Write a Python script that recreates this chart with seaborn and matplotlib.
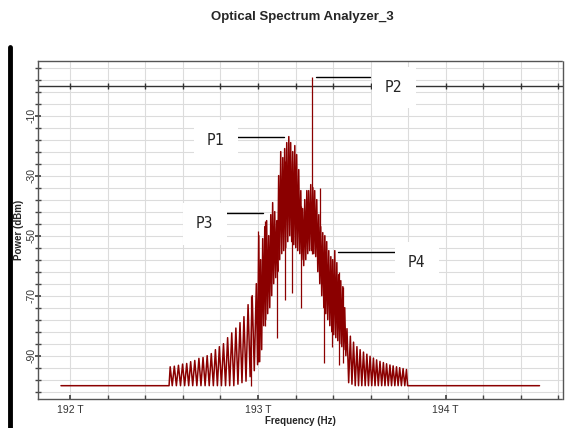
import matplotlib
matplotlib.use("Agg")
import matplotlib.pyplot as plt
from matplotlib.lines import Line2D
from matplotlib.ticker import MultipleLocator, FuncFormatter
import numpy as np
import pandas as pd
import seaborn as sns

# --- spectrum (frequency in THz, power in dBm) ---
# left side-band comb
left_freq = [192.532, 192.554, 192.576, 192.598, 192.620, 192.641, 192.663, 192.685,
             192.707, 192.729, 192.751, 192.773, 192.794, 192.816, 192.838, 192.860,
             192.882, 192.904, 192.925, 192.947, 192.969, 192.991]
left_top = [-93.7, -93.5, -93.2, -92.8, -92.6, -92.0, -91.6, -90.9, -90.6, -90.0, -89.3,
            -88.0, -87.0, -86.0, -84.0, -82.4, -80.8, -79.0, -77.0, -73.0, -70.0, -66.0]
left_low = [-100, -100, -100, -100, -100, -100, -100, -100, -100, -100, -100,
            -100, -100, -100, -100, -100, -99.5, -99, -98.5, -97, -95, -93]

# central part of the spectrum
core_freq = [193.004, 193.014, 193.025, 193.036, 193.046, 193.057, 193.068, 193.078,
             193.089, 193.100, 193.110, 193.121, 193.132, 193.142, 193.153, 193.164,
             193.174, 193.185, 193.196, 193.206, 193.217, 193.228, 193.238, 193.249,
             193.260, 193.270, 193.281, 193.292, 193.302, 193.313, 193.324, 193.334,
             193.345, 193.356, 193.366, 193.377, 193.388, 193.398, 193.409, 193.420,
             193.430, 193.441, 193.452, 193.462]
core_top = [-50, -58, -51, -47, -45, -50, -43, -39, -42, -45, -30, -22, -24, -21, -19,
            -17, -19, -22, -20, -23, -28, -35, -41, -38, -35, -35, -33, -34, -35, -38,
            -43, -47, -49, -50, -52, -55, -57, -58, -55, -59, -63, -65, -67, -74]
core_low = [-92, -88, -80, -78, -76, -74, -70, -66, -64, -62, -58, -56, -55, -54, -52,
            -50, -52, -53, -54, -55, -56, -58, -60, -58, -56, -55, -55, -56, -57, -62,
            -66, -70, -74, -76, -78, -80, -82, -83, -84, -85, -86, -87, -88, -90]

# right side-band comb
right_freq = [193.474, 193.492, 193.509, 193.527, 193.544, 193.562, 193.580, 193.597,
              193.615, 193.632, 193.650, 193.668, 193.685, 193.703, 193.720, 193.738,
              193.755, 193.773, 193.791]
right_top = [-81.0, -83.5, -85.5, -87.0, -88.0, -88.8, -89.5, -90.2, -90.8, -91.4,
             -91.9, -92.3, -92.7, -93.1, -93.4, -93.7, -94.0, -94.3, -94.6]
right_low = [-99, -99.5, -100, -100, -100, -100, -100, -100, -100, -100,
             -100, -100, -100, -100, -100, -100, -100, -100, -100]

# single lines standing out of the trace (P2 is the carrier)
spike_freq = [192.965, 193.000, 193.036, 193.103, 193.145, 193.183, 193.231,
              193.290, 193.329, 193.351, 193.394, 193.430, 193.453]
spike_low = [-100, -92, -80, -84, -71.4, -69, -74, -56, -60, -92.5, -87, -93, -92.4]
spike_top = [-70, -48.6, -45, -45, -25, -25, -40, 3, -34, -50, -58, -62, -67]

floor_start, floor_end, floor_level = 191.95, 194.50, -100

# label, text position, leader line (x0, x1, y)
notes = [
    ("P1", (192.775, -18.4), (192.828, 193.139, -17.0)),
    ("P2", (193.723, -0.6), (193.311, 193.599, 2.8)),
    ("P3", (192.716, -46.1), (192.752, 193.027, -42.5)),
    ("P4", (193.846, -59.1), (193.426, 193.782, -55.3)),
]

trace_color = "#8b0000"


def build_trace():
    freq = np.concatenate([left_freq, core_freq, right_freq])
    top = np.concatenate([left_top, core_top, right_top])
    low = np.concatenate([left_low, core_low, right_low])
    mid = np.append((freq[1:] + freq[:-1]) / 2, freq[-1] + 0.006)
    xs = np.column_stack([freq, mid]).ravel()
    ys = np.column_stack([top, low]).ravel()
    xs = np.concatenate([[floor_start, freq[0] - 0.006], xs, [floor_end]])
    ys = np.concatenate([[floor_level, floor_level], ys, [floor_level]])
    return pd.DataFrame({"freq": xs, "power": ys})


def main():
    sns.set_theme(style="whitegrid")
    plt.rcParams["font.family"] = ["Liberation Sans", "DejaVu Sans"]
    plt.rcParams["axes.unicode_minus"] = False

    fig = plt.figure(figsize=(5.8, 4.28), dpi=100)
    ax = fig.add_axes([0.065, 0.0666, 0.905, 0.791])

    df = build_trace()
    sns.lineplot(data=df, x="freq", y="power", sort=False, estimator=None,
                 color=trace_color, linewidth=1.1, ax=ax, zorder=3)
    ax.vlines(spike_freq, spike_low, spike_top, color=trace_color, linewidth=0.9, zorder=3)

    ax.set_xlim(191.826, 194.623)
    ax.set_ylim(-104.6, 8.2)

    # axes decoration in the style of the analyzer
    ax.xaxis.set_major_locator(MultipleLocator(1))
    ax.xaxis.set_minor_locator(MultipleLocator(0.2))
    ax.xaxis.set_major_formatter(FuncFormatter(lambda v, p: f"{v:.0f} T"))
    ax.yaxis.set_major_locator(MultipleLocator(20, offset=10))
    ax.yaxis.set_minor_locator(MultipleLocator(4, offset=2))
    ax.grid(True, which="both", color="#dcdcdc", linewidth=0.8)
    ax.set_axisbelow(True)
    ax.tick_params(axis="both", which="both", colors="#444444", labelcolor="#333333",
                   labelsize=7.5, left=True, bottom=True)
    ax.tick_params(axis="x", which="both", direction="in", length=3, pad=4)
    ax.tick_params(axis="y", which="both", direction="inout", length=5, pad=-2)
    for lab in ax.get_yticklabels():
        lab.set_rotation(90)
        lab.set_va("center")

    for side in ["top", "right", "bottom"]:
        ax.spines[side].set_linestyle((0, (1, 1)))
        ax.spines[side].set_color("#555555")
        ax.spines[side].set_linewidth(1.0)
    ax.spines["left"].set_color("#555555")
    ax.spines["left"].set_linewidth(1.0)

    # zero-dBm reference line with its own tick marks
    ax.axhline(0, color="#333333", linewidth=1.0, zorder=2)
    marks = np.arange(192.0, 194.61, 0.2)
    ax.plot(marks, np.zeros_like(marks), "|", color="#333333", markersize=4, zorder=2)

    for label, (tx, ty), (x0, x1, ly) in notes:
        ax.plot([x0, x1], [ly, ly], color="black", linewidth=1.0, zorder=4)
        ax.text(tx, ty, label, ha="center", va="center", fontsize=10.5,
                family="DejaVu Sans Mono", zorder=4,
                bbox=dict(boxstyle="square,pad=0.9", fc="white", ec="none"))

    ax.set_xlabel("Frequency (Hz)", fontsize=7, fontweight="bold", labelpad=1)
    ax.set_ylabel("Power (dBm)", fontsize=7, fontweight="bold")
    ax.yaxis.set_label_coords(-0.027, 0.5)
    fig.text(0.522, 1 - 17 / 428, "Optical Spectrum Analyzer_3", ha="center",
             va="center", fontsize=9.5, fontweight="bold")

    # black bar on the left edge of the window
    fig.add_artist(Line2D([10 / 580, 10 / 580], [0, 1 - 47 / 428],
                          color="black", linewidth=3.5))

    fig.savefig("out.png", dpi=100)


if __name__ == "__main__":
    main()
